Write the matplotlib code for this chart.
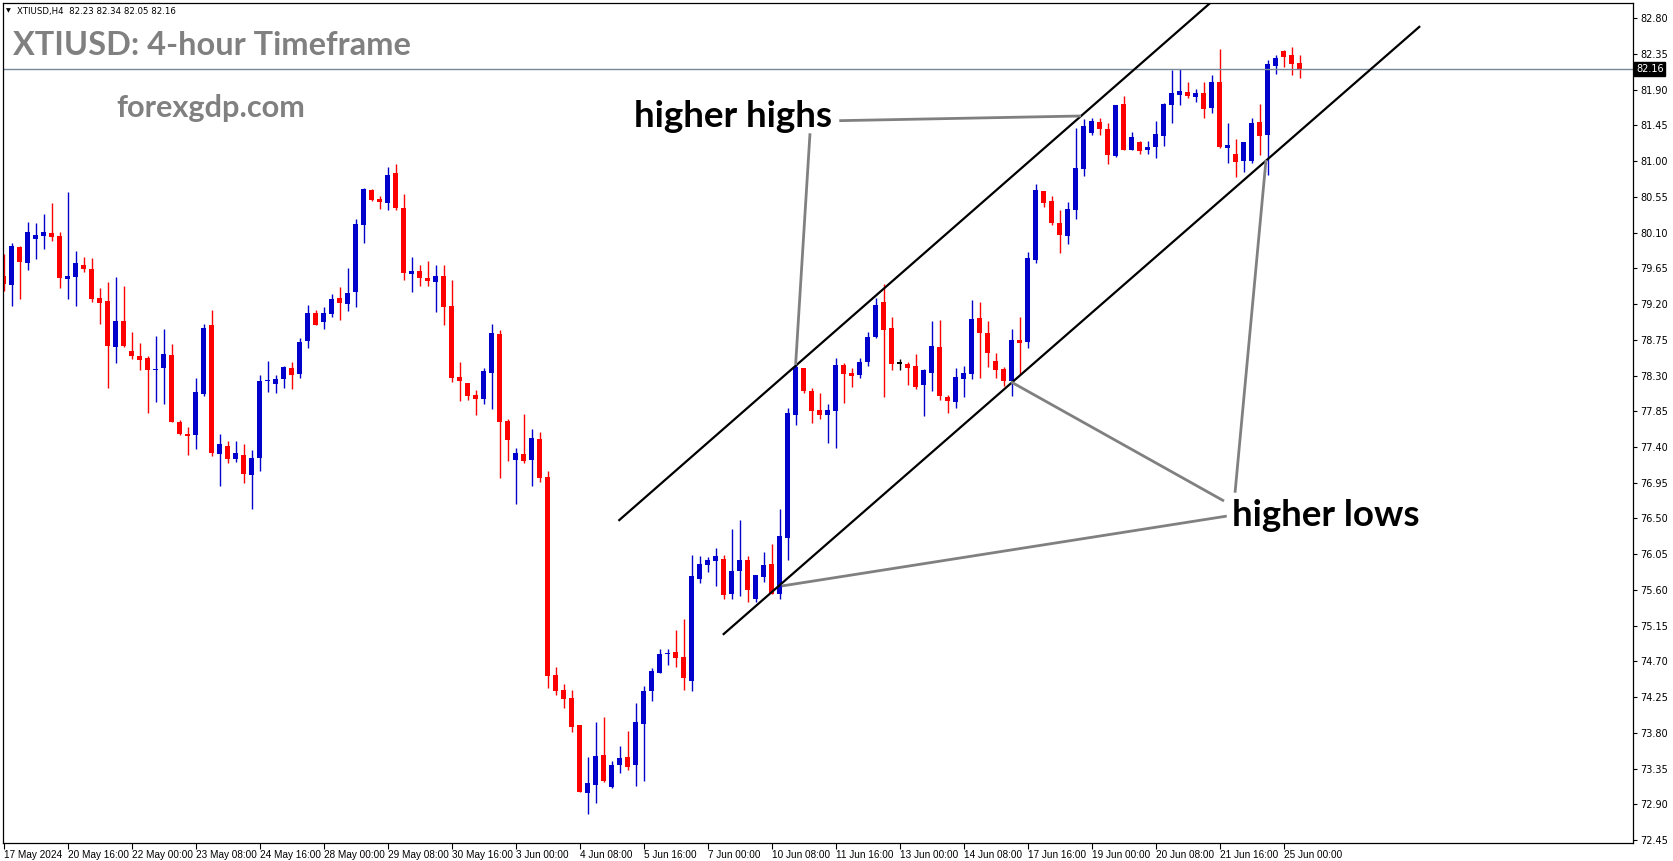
import matplotlib
matplotlib.use('Agg')
import matplotlib.pyplot as plt
import matplotlib.transforms as mtransforms
import numpy as np

W, H = 1673, 861

# 4-hour candles (bar 1 = leftmost visible bar)
opens = [79.55, 79.44, 79.92, 79.72, 80.02, 80.06, 80.10, 80.06, 79.52, 79.54,
         79.69, 79.64, 79.28, 79.24, 78.66, 78.99, 78.61, 78.55, 78.52, 78.37,
         78.39, 78.56, 77.71, 77.56, 77.55, 78.07, 78.94, 77.31, 77.41, 77.25,
         77.30, 77.05, 77.26, 78.23, 78.19, 78.26, 78.39, 78.32, 78.73, 79.09,
         78.97, 79.08, 79.28, 79.20, 79.35, 80.20, 80.64, 80.52, 80.47, 80.85,
         80.41, 79.58, 79.62, 79.53, 79.48, 79.55, 79.18, 78.28, 78.21, 78.06,
         78.00, 78.33, 78.82, 77.73, 77.24, 77.31, 77.24, 77.50, 77.02, 74.53,
         74.34, 74.24, 73.90, 73.04, 73.14, 73.52, 73.12, 73.40, 73.50, 73.39,
         73.91, 74.33, 74.56, 74.79, 74.82, 74.76, 74.46, 75.74, 75.92, 75.97,
         75.99, 75.55, 75.84, 75.98, 75.49, 75.76, 75.93, 75.55, 76.25, 77.80,
         78.40, 78.11, 77.87, 77.80, 77.85, 78.43, 78.33, 78.31, 78.47, 78.79,
         79.23, 78.90, 78.45, 78.45, 78.42, 78.18, 78.33, 78.66, 78.03, 77.97,
         78.26, 78.32, 79.02, 78.84, 78.48, 78.38, 78.23, 78.75, 78.72, 79.76,
         80.62, 80.50, 80.22, 80.06, 80.38, 80.90, 81.35, 81.49, 81.40, 81.06,
         81.72, 81.14, 81.24, 81.14, 81.18, 81.32, 81.71, 81.83, 81.87, 81.81,
         81.86, 81.67, 82.00, 81.17, 81.09, 81.00, 81.00, 81.49, 81.33, 82.20,
         82.39, 82.34, 82.23]
highs = [79.83, 79.97, 79.93, 80.23, 80.22, 80.33, 80.47, 80.11, 80.61, 79.87,
         79.79, 79.78, 79.40, 79.48, 79.54, 79.43, 78.85, 78.71, 78.55, 78.80,
         78.89, 78.70, 77.74, 77.65, 78.27, 78.95, 79.13, 77.56, 77.48, 77.48,
         77.44, 77.36, 78.31, 78.48, 78.31, 78.42, 78.47, 78.77, 79.19, 79.13,
         79.16, 79.33, 79.41, 79.65, 80.27, 80.66, 80.65, 80.56, 80.93, 80.96,
         80.59, 79.79, 79.69, 79.74, 79.69, 79.69, 79.50, 78.47, 78.21, 78.12,
         78.39, 78.95, 78.87, 77.75, 77.39, 77.82, 77.63, 77.59, 77.10, 74.63,
         74.42, 74.34, 73.90, 73.50, 73.94, 74.00, 73.45, 73.64, 73.82, 74.18,
         74.39, 74.62, 74.86, 74.86, 75.10, 75.23, 76.04, 76.03, 76.02, 76.13,
         76.04, 76.37, 76.48, 76.03, 75.79, 76.08, 76.18, 76.62, 77.89, 78.43,
         78.40, 78.14, 78.08, 77.94, 78.52, 78.46, 78.40, 78.52, 78.85, 79.28,
         79.45, 79.04, 78.51, 78.47, 78.57, 78.38, 78.99, 79.00, 78.06, 78.40,
         78.42, 79.25, 79.23, 78.99, 78.58, 78.41, 78.89, 79.04, 79.86, 80.71,
         80.62, 80.56, 80.38, 80.49, 81.42, 81.53, 81.54, 81.54, 81.48, 81.71,
         81.82, 81.37, 81.25, 81.25, 81.51, 81.73, 82.15, 82.16, 82.00, 81.91,
         82.00, 82.08, 82.41, 81.48, 81.28, 81.24, 81.54, 81.72, 82.27, 82.34,
         82.40, 82.44, 82.34]
lows = [79.37, 79.17, 79.26, 79.63, 79.77, 79.89, 79.99, 79.40, 79.26, 79.18,
        79.60, 79.23, 78.95, 78.14, 78.46, 78.66, 78.51, 78.37, 77.83, 77.97,
        77.94, 77.71, 77.55, 77.30, 77.38, 78.04, 77.29, 76.91, 77.20, 77.21,
        76.95, 76.62, 77.10, 78.09, 78.08, 78.14, 78.13, 78.27, 78.65, 78.94,
        78.89, 79.04, 79.00, 79.11, 79.16, 79.97, 80.50, 80.40, 80.38, 80.38,
        79.50, 79.35, 79.43, 79.43, 79.10, 78.94, 78.22, 77.98, 77.99, 77.80,
        77.94, 77.88, 77.01, 77.22, 76.68, 77.20, 76.91, 76.96, 74.37, 74.28,
        74.11, 73.81, 73.05, 72.78, 72.92, 73.18, 73.11, 73.30, 73.33, 73.13,
        73.19, 74.20, 74.55, 74.66, 74.63, 74.34, 74.33, 75.69, 75.83, 75.65,
        75.48, 75.48, 75.53, 75.45, 75.45, 75.70, 75.55, 75.49, 75.98, 77.68,
        78.08, 77.70, 77.75, 77.45, 77.39, 77.95, 78.16, 78.27, 78.42, 78.77,
        78.03, 78.37, 78.37, 78.18, 78.13, 77.79, 78.11, 77.99, 77.83, 77.89,
        78.03, 78.26, 78.27, 78.41, 78.27, 78.17, 78.04, 78.31, 78.65, 79.72,
        80.42, 80.20, 79.84, 79.96, 80.27, 80.81, 81.33, 81.33, 80.96, 81.05,
        81.14, 81.14, 81.09, 81.09, 81.04, 81.19, 81.48, 81.71, 81.79, 81.74,
        81.54, 81.61, 81.17, 80.98, 80.80, 80.86, 80.98, 81.08, 80.83, 82.10,
        82.19, 82.08, 82.05]
closes = [79.45, 79.93, 79.73, 80.11, 80.07, 80.11, 80.04, 79.53, 79.55, 79.72,
          79.64, 79.26, 79.21, 78.67, 78.99, 78.67, 78.55, 78.50, 78.37, 78.38,
          78.57, 77.71, 77.56, 77.54, 78.09, 78.90, 77.32, 77.44, 77.25, 77.32,
          77.06, 77.26, 78.23, 78.24, 78.26, 78.41, 78.31, 78.72, 79.09, 78.94,
          79.09, 79.26, 79.21, 79.34, 80.21, 80.65, 80.51, 80.49, 80.83, 80.41,
          79.59, 79.62, 79.53, 79.49, 79.55, 79.16, 78.27, 78.23, 78.04, 78.00,
          78.36, 78.84, 77.71, 77.49, 77.32, 77.22, 77.51, 77.01, 74.52, 74.33,
          74.23, 73.88, 73.06, 73.17, 73.51, 73.19, 73.40, 73.49, 73.37, 73.94,
          74.33, 74.58, 74.79, 74.81, 74.74, 74.49, 75.77, 75.93, 75.98, 76.03,
          75.54, 75.84, 75.98, 75.60, 75.79, 75.92, 75.55, 76.28, 77.83, 78.41,
          78.11, 77.85, 77.80, 77.87, 78.43, 78.32, 78.30, 78.47, 78.79, 79.19,
          78.87, 78.45, 78.45, 78.40, 78.16, 78.37, 78.67, 78.04, 77.98, 78.28,
          78.33, 79.01, 78.84, 78.58, 78.37, 78.23, 78.75, 78.71, 79.78, 80.64,
          80.47, 80.22, 80.07, 80.40, 80.91, 81.44, 81.51, 81.40, 81.08, 81.71,
          81.14, 81.30, 81.13, 81.18, 81.34, 81.72, 81.86, 81.88, 81.82, 81.86,
          81.66, 82.00, 81.18, 81.20, 80.99, 81.24, 81.48, 81.32, 82.22, 82.30,
          82.31, 82.22, 82.16]
bars = np.arange(1, len(opens) + 1)

time_labels = ['17 May 2024', '20 May 16:00', '22 May 00:00', '23 May 08:00',
               '24 May 16:00', '28 May 00:00', '29 May 08:00', '30 May 16:00',
               '3 Jun 00:00', '4 Jun 08:00', '5 Jun 16:00', '7 Jun 00:00',
               '10 Jun 08:00', '11 Jun 16:00', '13 Jun 00:00', '14 Jun 08:00',
               '17 Jun 16:00', '19 Jun 00:00', '20 Jun 08:00', '21 Jun 16:00',
               '25 Jun 00:00']
time_label_bars = list(range(1, 162, 8))
price_ticks = [round(72.45 + 0.45 * i, 2) for i in range(24)]
last_price = 82.16
header = "XTIUSD,H4  82.23 82.34 82.05 82.16"

# drawn lines as (bar, price) pairs
upper_channel = ([77.96, 152.5], [76.48, 83.05])
lower_channel = ([91.01, 177.96], [75.045, 82.69])
highs_pointers = [((105.46, 81.509), (135.68, 81.568)),
                  ((101.8, 81.35), (100.0, 78.433))]
lows_pointers = [((153.55, 76.72), (126.93, 78.22)),
                 ((154.93, 76.825), (158.8, 81.014)),
                 ((153.89, 76.53), (98.26, 75.65))]

BLUE = '#0000CD'
RED = '#FF0000'
GRAY = '#808080'

fig = plt.figure(figsize=(W / 100, H / 100), dpi=100)
ax = fig.add_axes([3 / W, (H - 843) / H, 1630 / W, 840 / H])
ax.set_xlim(0.925, 204.675)
ax.set_ylim(72.414, 82.9906)

o = np.array(opens)
c = np.array(closes)
colors = np.where(c > o, BLUE, np.where(c < o, RED, 'black'))
ax.vlines(bars, lows, highs, colors=colors, linewidth=1.0)
min_h = 1.3 / 79.42
body_bottom = np.minimum(o, c)
body_h = np.maximum(np.abs(c - o), min_h)
ax.bar(bars, body_h, width=0.62, bottom=body_bottom, color=colors, linewidth=0)

ax.axhline(last_price, color='#778899', linewidth=1.0)

ax.plot(*upper_channel, color='black', linewidth=1.6)
ax.plot(*lower_channel, color='black', linewidth=1.6)
for (p1, p2) in highs_pointers + lows_pointers:
    ax.plot([p1[0], p2[0]], [p1[1], p2[1]], color=GRAY, linewidth=2.0,
            solid_capstyle='butt')

ax.yaxis.tick_right()
ax.set_yticks(price_ticks)
ax.set_yticklabels([f"{p:.2f}" for p in price_ticks])
ax.tick_params(axis='y', length=3, width=0.8, pad=2, labelsize=7)
ax.set_xticks(time_label_bars)
ax.set_xticklabels(time_labels, ha='left', family='Liberation Sans')
ax.tick_params(axis='x', length=4, width=0.8, pad=1, labelsize=7.2)
for s in ax.spines.values():
    s.set_color('black')
    s.set_linewidth(0.9)

lbl_tr = mtransforms.blended_transform_factory(ax.transAxes, ax.transData)
lbl_tr = lbl_tr + mtransforms.ScaledTranslation(3 / 100, 0, fig.dpi_scale_trans)
ax.text(1.0, last_price, '82.16', transform=lbl_tr, ha='left', va='center',
        color='white', fontsize=7,
        bbox=dict(boxstyle='square,pad=0.18', fc='black', ec='black'))


def px(x, y):
    return x / W, 1 - y / H


def fit_width(t, target):
    r = fig.canvas.get_renderer()
    w = t.get_window_extent(r).width
    t.set_fontsize(t.get_fontsize() * target / w)


texts = []
texts.append((fig.text(*px(17.3, 14), header, fontsize=7, va='baseline',
                       family='DejaVu Sans'), 158))
fig.text(*px(8, 11), '\u25bc', fontsize=4.5, ha='center', va='center')
texts.append((fig.text(*px(13.3, 55), 'XTIUSD: 4-hour Timeframe', color=GRAY,
                       fontsize=22, fontweight='bold', family='Lato',
                       va='baseline'), 398))
texts.append((fig.text(*px(116.7, 117.3), 'forexgdp.com', color=GRAY,
                       fontsize=19, fontweight='bold', family='Lato',
                       va='baseline'), 189))
texts.append((fig.text(*px(634, 127.3), 'higher highs', color='black',
                       fontsize=24, fontweight='bold', family='Lato',
                       va='baseline'), 199))
texts.append((fig.text(*px(1231.7, 526), 'higher lows', color='black',
                       fontsize=24, fontweight='bold', family='Lato',
                       va='baseline'), 188))
for t, w in texts:
    fit_width(t, w)

fig.savefig('out.png', dpi=100, facecolor='white')
